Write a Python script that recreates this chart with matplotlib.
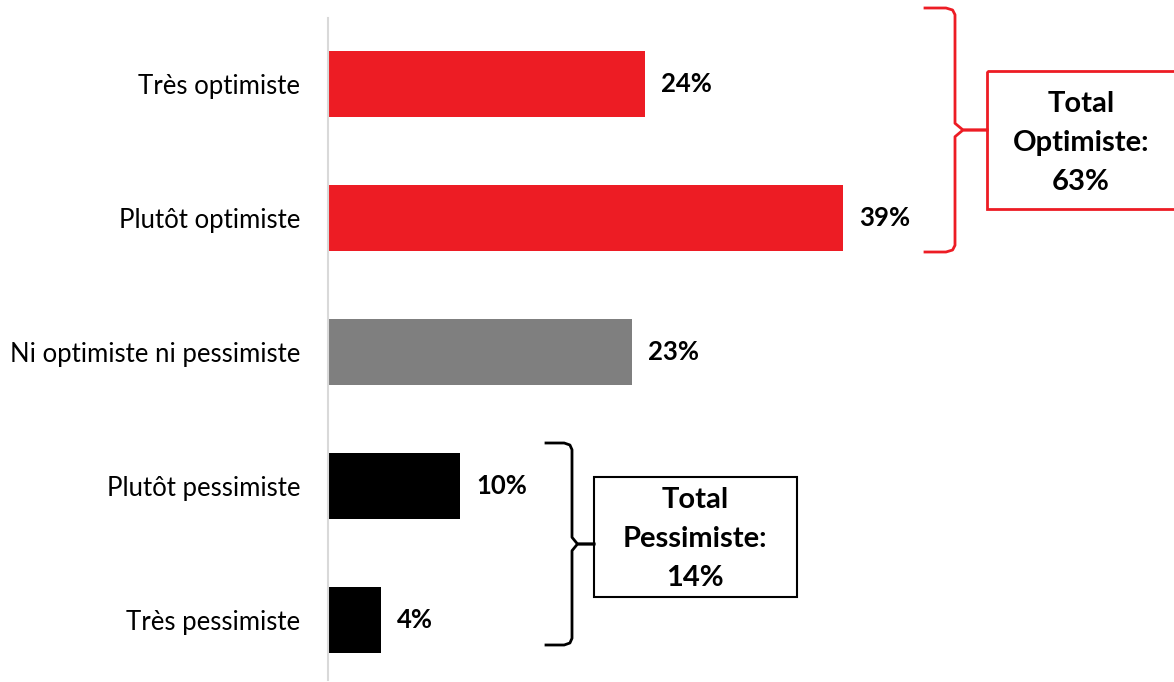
import matplotlib.pyplot as plt
from matplotlib.patches import Rectangle

categories = ["Très optimiste", "Plutôt optimiste", "Ni optimiste ni pessimiste",
              "Plutôt pessimiste", "Très pessimiste"]
values = [24, 39, 23, 10, 4]
colors = ["#ed1c24", "#ed1c24", "#7f7f7f", "#000000", "#000000"]
total_opt_label = "Total\nOptimiste:\n63%"
total_pes_label = "Total\nPessimiste:\n14%"

plt.rcParams['font.family'] = ['Lato', 'DejaVu Sans']

W, H = 1174, 682
fig = plt.figure(figsize=(W / 100, H / 100), dpi=100)
# axes spans from the vertical axis line to the right edge
ax = fig.add_axes([328 / W, 2 / H, 1 - 328 / W, 662 / H])

y = list(range(len(categories)))
ax.barh(y, values, height=0.4925, color=colors)
ax.set_xlim(0, 846 / 13.2)
ax.set_ylim(4 + 60 / 134, -66 / 134)

for yi, v in zip(y, values):
    ax.text(v + 1.25, yi, f"{v}%", va="center", ha="left",
            fontsize=18.5, fontweight="bold")

ax.set_yticks(y)
ax.set_yticklabels(categories, fontsize=18.5)
ax.tick_params(axis="y", length=0, pad=20)
ax.set_xticks([])
for s in ["top", "right", "bottom"]:
    ax.spines[s].set_visible(False)
ax.spines["left"].set_color("#d9d9d9")
ax.spines["left"].set_linewidth(1.5)


def brace(x0, x1, x2, ytop, ybot, color):
    # curly brace opening left, point at x2
    ymid = (ytop + ybot) / 2
    r = (x1 - x0)
    ax.plot([x0, x1 - 0.3 * r, x1 - 0.08 * r, x1, x1, x1 + 0.25 * (x2 - x1), x2],
            [ytop, ytop, ytop + 0.015, ytop + 0.05, ymid - 0.05, ymid, ymid],
            color=color, lw=2, clip_on=False, solid_joinstyle="round")
    ax.plot([x0, x1 - 0.3 * r, x1 - 0.08 * r, x1, x1, x1 + 0.25 * (x2 - x1), x2],
            [ybot, ybot, ybot - 0.015, ybot - 0.05, ymid + 0.05, ymid, ymid],
            color=color, lw=2, clip_on=False, solid_joinstyle="round")


def px(xp):
    return (xp - 328) / 13.2


def py(yp):
    return (yp - 84) / 134


brace(px(925), px(955), px(987), py(8), py(252), "#ed1c24")
ax.add_patch(Rectangle((px(987), py(71)), px(1190) - px(987), py(209) - py(71),
                       fill=False, edgecolor="#ed1c24", lw=2, clip_on=False))
ax.text(px(1081), py(143), total_opt_label, ha="center", va="center",
        fontsize=21, fontweight="bold", linespacing=1.6)

brace(px(546), px(572), px(594), py(443), py(645), "black")
ax.add_patch(Rectangle((px(594), py(477)), px(797) - px(594), py(597) - py(477),
                       fill=False, edgecolor="black", lw=1.5, clip_on=False))
ax.text(px(695), py(539), total_pes_label, ha="center", va="center",
        fontsize=21, fontweight="bold", linespacing=1.6)

fig.savefig("out.png", dpi=100)
